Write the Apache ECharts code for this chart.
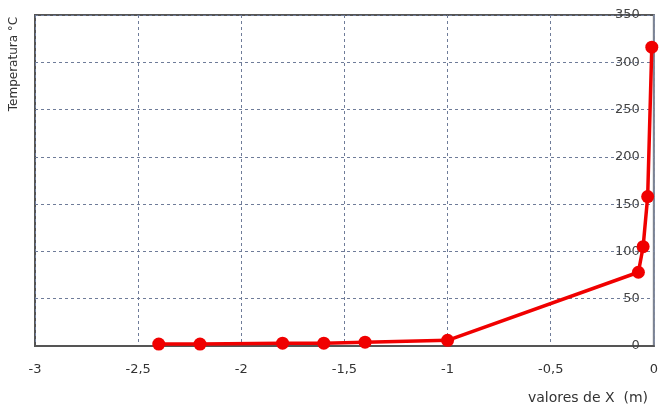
<!DOCTYPE html>
<html>
<head>
<meta charset="utf-8">
<script src="https://cdn.jsdelivr.net/npm/echarts@6/dist/echarts.min.js"></script>
<style>
  html, body { margin: 0; padding: 0; background: #fff; }
  #chart { width: 661px; height: 409px; }
</style>
</head>
<body>
<div id="chart"></div>
<script>
// Position along the bar (m) and measured temperature (°C)
var posX = [-2.4, -2.2, -1.8, -1.6, -1.4, -1.0, -0.075, -0.052, -0.03, -0.01];
var tempC = [2, 2, 3, 3, 4, 6, 78, 105, 158, 316];

var xTicks = { min: -3, max: 0, step: 0.5 };
var yTicks = { min: 0, max: 350, step: 50 };

var points = posX.map(function (x, i) { return [x, tempC[i]]; });

var chart = echarts.init(document.getElementById('chart'));
var gridColor = '#6f7c99';
var font = '"DejaVu Sans", sans-serif';

chart.setOption({
  animation: false,
  grid: {
    left: 35, right: 4, top: 15, bottom: 63,
    show: true, borderColor: '#555', borderWidth: 2, backgroundColor: '#fff'
  },
  xAxis: {
    type: 'value',
    min: xTicks.min, max: xTicks.max, interval: xTicks.step,
    axisLine: { show: true, onZero: false, lineStyle: { color: '#555', width: 2 } },
    axisTick: { show: false },
    axisLabel: {
      color: '#333', fontFamily: font, fontSize: 13, margin: 17,
      formatter: function (v) { return String(+v.toFixed(1)).replace('.', ','); }
    },
    splitLine: { show: true, lineStyle: { color: gridColor, type: [3, 3], width: 1 } }
  },
  yAxis: {
    type: 'value',
    position: 'right',
    min: yTicks.min, max: yTicks.max, interval: yTicks.step,
    axisLine: { show: true, lineStyle: { color: '#8a93a8', width: 1.5 } },
    axisTick: { show: false },
    axisLabel: {
      inside: true, margin: 14, color: '#444', fontFamily: font, fontSize: 13
    },
    splitLine: { show: true, lineStyle: { color: gridColor, type: [3, 3], width: 1 } }
  },
  graphic: [
    {
      type: 'text',
      x: 14, y: 64, rotation: Math.PI / 2,
      style: {
        text: 'Temperatura °C', fill: '#333', font: '12px ' + font,
        align: 'center', verticalAlign: 'middle'
      }
    },
    {
      type: 'text',
      x: 588, y: 398,
      style: {
        text: 'valores de X  (m)', fill: '#333', font: '14px ' + font,
        align: 'center', verticalAlign: 'middle'
      }
    }
  ],
  series: [{
    type: 'line',
    data: points,
    symbol: 'circle',
    symbolSize: 13,
    clip: false,
    lineStyle: { color: '#f00000', width: 3.5 },
    itemStyle: { color: '#f00000' }
  }]
});
</script>
</body>
</html>
